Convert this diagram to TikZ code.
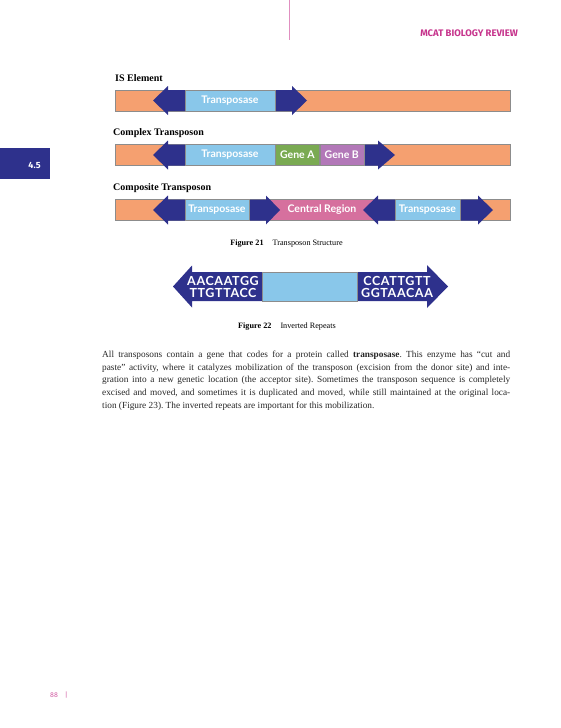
\documentclass[tikz,border=0pt]{standalone}
\usepackage{fontspec}
\setmainfont{Liberation Serif}
\newfontfamily\segfont{Lato}
\newfontfamily\seqfont[LetterSpace=5]{Lato}
\newfontfamily\headfont{Fira Sans}
\usetikzlibrary{calc}
\frenchspacing

\definecolor{barorange}{RGB}{245,160,112}
\definecolor{irblue}{RGB}{46,49,140}
\definecolor{tpblue}{RGB}{137,199,234}
\definecolor{geneA}{RGB}{122,170,82}
\definecolor{geneB}{RGB}{178,120,184}
\definecolor{central}{RGB}{214,112,158}
\definecolor{mcatpink}{RGB}{198,52,140}

\begin{document}
\begin{tikzpicture}[x=1pt, y=-1pt,
    bar/.style={fill=barorange, draw=black!45, line width=0.4pt},
    irrep/.style={fill=irblue},
    seg/.style={draw=black!45, line width=0.4pt, minimum height=21pt, inner sep=0pt,
        text=white, font=\segfont\bfseries\fontsize{10.5}{12}\selectfont},
    rowlabel/.style={anchor=west, inner sep=0pt, font=\bfseries\fontsize{10}{12}\selectfont},
    seqtext/.style={inner sep=0pt, align=center, text=white,
        font=\seqfont\bfseries\fontsize{12.5}{12}\selectfont},
    figcap/.style={inner sep=0pt, font=\fontsize{8.2}{9}\selectfont}]
    \useasboundingbox (0,0) rectangle (560,728);

    % page furniture
    \draw[mcatpink!55, line width=0.6pt] (289,0) -- (289,40);
    \node[anchor=east, inner sep=0pt, text=mcatpink,
        font=\headfont\bfseries\fontsize{9.5}{11}\selectfont] (runhead) at (518,33) {MCAT BIOLOGY REVIEW};
    \fill[irblue] (0,148) rectangle (50,179);
    \node[text=white, inner sep=0pt, font=\headfont\bfseries\fontsize{9}{10}\selectfont] (tab) at (34.5,165) {4.5};
    \node[anchor=west, inner sep=0pt, text=mcatpink!80,
        font=\headfont\fontsize{7}{8}\selectfont] (pagenum) at (50,695) {88\hspace{7pt}|};

    % Figure 21: the three rows
    \node[rowlabel] (lab1) at (115,78) {IS Element};
    \node[rowlabel] (lab2) at (113,133) {Complex Transposon};
    \node[rowlabel] (lab3) at (113,188) {Composite Transposon};

    \foreach \m in {100.5,155,210}
        \draw[bar] (115,\m-10.5) rectangle (510,\m+10.5);
    \node[seg, fill=central, minimum width=112pt] (cr) at (322,210) {Central Region};

    % left repeats, all rows
    \foreach \m in {100.5,155,210}
        \fill[irrep] (153,\m) -- (168,\m-14.5) -- (168,\m-10.5) -- (185,\m-10.5)
            -- (185,\m+10.5) -- (168,\m+10.5) -- (168,\m+14.5) -- cycle;
    % right repeats
    \fill[irrep] (275,90) -- (292,90) -- (292,86) -- (307,100.5) -- (292,115) -- (292,111) -- (275,111) -- cycle;
    \fill[irrep] (363,144.5) -- (378,144.5) -- (378,140.5) -- (395,155) -- (378,169.5) -- (378,165.5) -- (363,165.5) -- cycle;
    \fill[irrep] (249,199.5) -- (266,199.5) -- (266,195.5) -- (280,210) -- (266,224.5) -- (266,220.5) -- (249,220.5) -- cycle;
    \fill[irrep] (363,210) -- (378,195.5) -- (378,199.5) -- (395,199.5) -- (395,220.5) -- (378,220.5) -- (378,224.5) -- cycle;
    \fill[irrep] (460,199.5) -- (478,199.5) -- (478,195.5) -- (493,210) -- (478,224.5) -- (478,220.5) -- (460,220.5) -- cycle;

    \node[seg, fill=tpblue, minimum width=90pt] (tp1) at (230,100.5) {Transposase};
    \node[seg, fill=tpblue, minimum width=90pt] (tp2) at (230,155) {Transposase};
    \node[seg, fill=geneA, minimum width=44pt, anchor=west] (ga) at (tp2.east) {Gene A};
    \node[seg, fill=geneB, minimum width=44pt, anchor=west] (gb) at (ga.east) {Gene B};
    \node[seg, fill=tpblue, minimum width=64pt] (tp3) at (217,210) {Transposase};
    \node[seg, fill=tpblue, minimum width=65pt] (tp4) at (427.5,210) {Transposase};

    \node[figcap] (fig21) at (286.5,244) {\textbf{Figure 21}\hspace{9pt}Transposon Structure};

    % Figure 22: inverted repeats
    \fill[irrep] (173,286.5) -- (192,265.5) -- (192,272) -- (262,272) -- (262,301) -- (192,301) -- (192,307.5) -- cycle;
    \fill[irrep] (357,272) -- (427,272) -- (427,265) -- (448,286.5) -- (427,308) -- (427,301) -- (357,301) -- cycle;
    \node[seg, fill=tpblue, minimum width=95pt, minimum height=29pt] (ircore) at (309.5,286.5) {};
    \node[seqtext] (irleft) at (223,287) {AACAATGG\\TTGTTACC};
    \node[seqtext] (irright) at (397,287) {CCATTGTT\\GGTAACAA};

    \node[figcap] (fig22) at (287,327) {\textbf{Figure 22}\hspace{9pt}Inverted Repeats};

    % body text
    \node[anchor=north west, inner sep=0pt, text width=408pt, align=justify, text=black!85,
        font=\fontsize{9.3}{12.6}\selectfont] (para) at (102,351)
        {All transposons contain a gene that codes for a protein called \textbf{transposase}. This enzyme has “cut and\linebreak
        paste” activity, where it catalyzes mobilization of the transposon (excision from the donor site) and inte-\linebreak
        gration into a new genetic location (the acceptor site). Sometimes the transposon sequence is completely\linebreak
        excised and moved, and sometimes it is duplicated and moved, while still maintained at the original loca-\linebreak
        tion (Figure 23). The inverted repeats are important for this mobilization.};
\end{tikzpicture}
\end{document}
